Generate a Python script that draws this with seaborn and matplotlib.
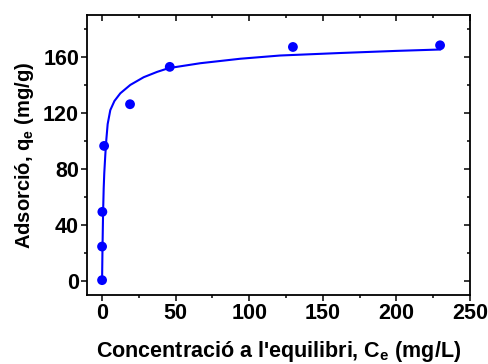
import numpy as np
import pandas as pd
import matplotlib
matplotlib.use("Agg")
import matplotlib.pyplot as plt
from matplotlib.ticker import MultipleLocator
import seaborn as sns

# Dades experimentals (punts)
ce_punts = [0.0, 0.0, 0.2, 1.4, 19.0, 46.0, 129.7, 229.7]
qe_punts = [0.5, 24.5, 49.3, 96.4, 126.2, 152.9, 167.1, 168.3]

# Corba d'ajust (llegida de la figura)
ce_corba = [0.0, 0.3, 0.7, 1.1, 1.5, 2.2, 2.9, 3.8, 5.6, 8.4, 12.4, 19.2,
            28.3, 37.4, 45.3, 66.8, 94.0, 121.0, 162.0, 200.0, 230.0]
qe_corba = [0.0, 24.0, 49.0, 66.0, 77.0, 90.0, 101.0, 112.0, 122.0, 128.5,
            134.0, 140.0, 145.5, 149.3, 152.0, 155.5, 158.7, 161.0, 162.8,
            164.3, 165.3]

punts = pd.DataFrame({"ce": ce_punts, "qe": qe_punts})
corba = pd.DataFrame({"ce": ce_corba, "qe": qe_corba})

sns.set_style("ticks")
plt.rcParams["font.family"] = ["Liberation Sans", "DejaVu Sans"]
plt.rcParams["font.weight"] = "bold"
plt.rcParams["text.color"] = "black"
plt.rcParams["axes.labelcolor"] = "black"
plt.rcParams["mathtext.fontset"] = "custom"
plt.rcParams["mathtext.rm"] = "Liberation Sans:bold"
plt.rcParams["mathtext.bf"] = "Liberation Sans:bold"
plt.rcParams["mathtext.it"] = "Liberation Sans:bold"

fig, ax = plt.subplots(figsize=(4.88, 3.64), dpi=100)
fig.subplots_adjust(left=0.179, right=0.963, top=0.959, bottom=0.190)

sns.lineplot(data=corba, x="ce", y="qe", ax=ax, color="#0000ff",
             linewidth=1.5, sort=False, estimator=None)
sns.scatterplot(data=punts, x="ce", y="qe", ax=ax, color="#0000ff",
                s=50, edgecolor="none", zorder=3)

ax.set_xlim(-10, 250)
ax.set_ylim(-10, 190)
ax.xaxis.set_major_locator(MultipleLocator(50))
ax.xaxis.set_minor_locator(MultipleLocator(25))
ax.yaxis.set_major_locator(MultipleLocator(40))
ax.yaxis.set_minor_locator(MultipleLocator(20))

for s in ax.spines.values():
    s.set_visible(True)
    s.set_linewidth(1.3)
    s.set_color("black")

ax.tick_params(which="both", direction="out", width=1.1, colors="black",
               labelsize=15.5, pad=2)
ax.tick_params(which="major", length=4)
ax.tick_params(which="minor", length=2.5)
ax.tick_params(which="both", top=True, right=True)
for t in ax.xaxis.get_ticklines(minor=True)[1::2] + ax.xaxis.get_ticklines()[1::2]:
    t.set_marker(3)
for t in ax.yaxis.get_ticklines(minor=True)[1::2] + ax.yaxis.get_ticklines()[1::2]:
    t.set_marker(0)
for lab in ax.get_xticklabels() + ax.get_yticklabels():
    lab.set_fontweight("bold")

ax.set_xlabel("Concentració a l'equilibri, C$_\\mathbf{e}$ (mg/L)",
              fontsize=15.5, fontweight="bold", labelpad=11, color="black")
ax.set_ylabel("Adsorció, q$_\\mathbf{e}$ (mg/g)",
              fontsize=14.5, fontweight="bold", labelpad=5, color="black")

fig.savefig("out.png", dpi=100)
